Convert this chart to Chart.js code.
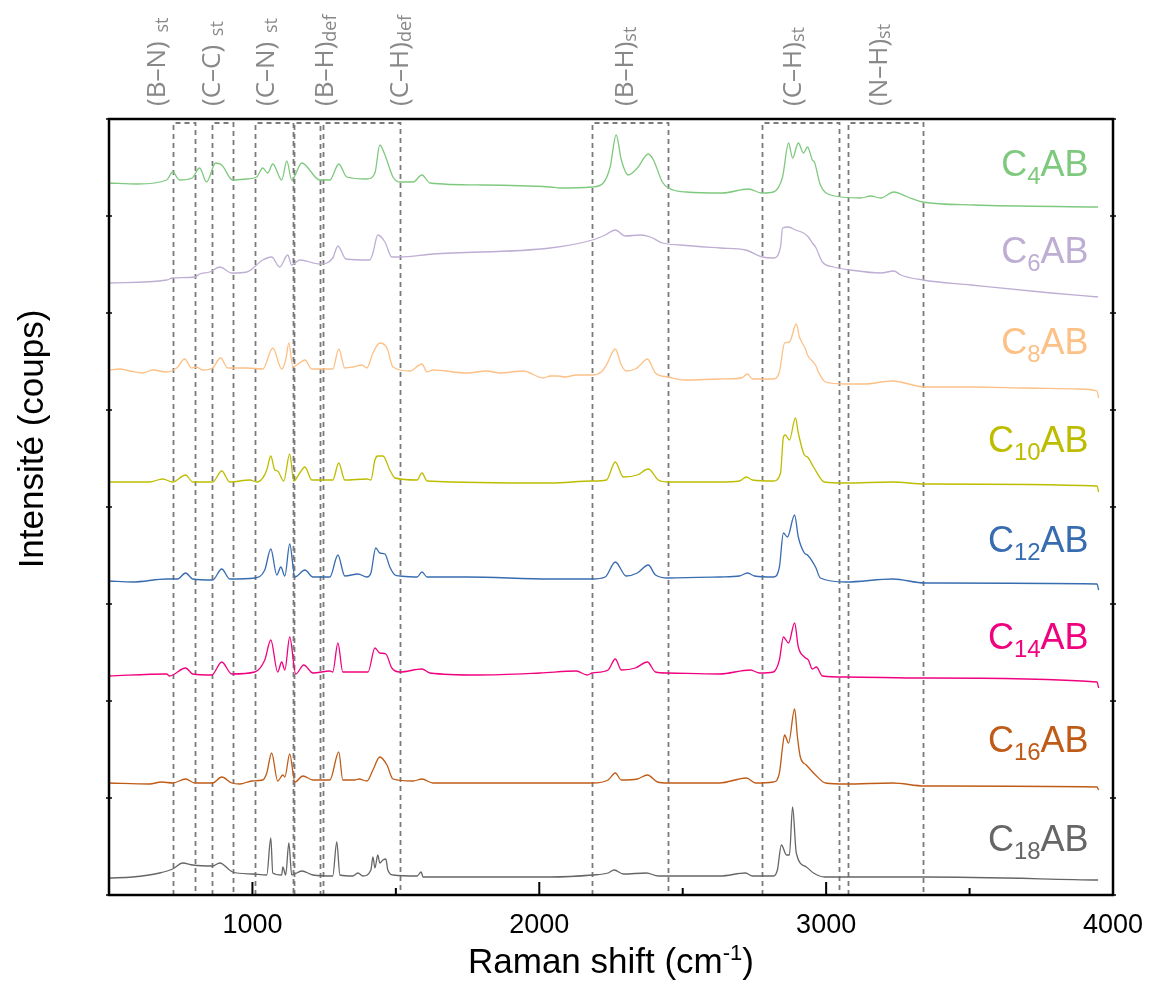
<!DOCTYPE html>
<html><head><meta charset="utf-8">
<script src="https://cdn.jsdelivr.net/npm/chart.js@4.4.1/dist/chart.umd.min.js"></script>
<style>html,body{margin:0;padding:0;background:#fff;}#wrap{width:1149px;height:985px;}</style>
</head><body><div id="wrap"><canvas id="c" width="1149" height="985"></canvas></div>
<script>
// ---- data (x: Raman shift cm-1, y: offset intensity, arbitrary counts) ----
const seriesNames = ['C', 'C', 'C', 'C', 'C', 'C', 'C', 'C'];
const seriesSub = ['4', '6', '8', '10', '12', '14', '16', '18'];
const seriesTail = 'AB';
const seriesColors = ['#7fc97f', '#beaed4', '#fdc086', '#bdbd00', '#386cb0', '#f0027f', '#bf5b17', '#666666'];

const c4AB = [[500,712],[600,711],[701,715],[722,723],[746,715],[790,717],[816,727],[840,713],[872,732],[893,730],[931,715],[980,716],[1015,718],[1036,727],[1053,722],[1071,731],[1102,715],[1120,734],[1137,715],[1172,732],[1235,715],[1270,715],[1301,731],[1329,718],[1399,716],[1427,722],[1444,750],[1462,740],[1490,718],[1514,713],[1560,713],[1591,720],[1619,712],[1800,710],[2038,708],[2073,707],[2185,708],[2223,712],[2247,728],[2268,760],[2286,735],[2310,720],[2342,727],[2380,741],[2398,735],[2429,713],[2450,707],[2513,703],[2638,702],[2729,706],[2775,702],[2816,703],[2848,718],[2869,752],[2883,737],[2903,752],[2921,742],[2935,748],[2952,735],[2959,733],[2980,710],[3015,700],[3120,697],[3155,699],[3190,697],[3236,703],[3284,698],[3337,693],[3515,690],[3948,688]];
const c6AB = [[500,612],[701,615],[722,617],[799,618],[816,621],[851,623],[886,628],[928,622],[980,623],[1036,635],[1067,638],[1095,628],[1123,640],[1137,630],[1165,635],[1235,631],[1280,637],[1298,649],[1326,636],[1409,635],[1420,642],[1437,660],[1462,653],[1486,638],[1514,638],[1629,641],[2038,647],[2185,655],[2230,660],[2265,665],[2300,659],[2352,660],[2387,658],[2429,652],[2492,650],[2631,647],[2719,645],[2778,638],[2816,637],[2841,648],[2848,667],[2869,668],[2893,665],[2921,662],[2938,658],[2952,652],[2963,648],[2987,633],[3026,628],[3085,625],[3190,622],[3236,624],[3260,620],[3337,615],[3504,610],[3784,602],[3948,598]];
const c8AB = [[500,525],[537,526],[572,524],[617,522],[652,525],[701,523],[736,527],[764,536],[788,527],[805,528],[826,525],[861,527],[889,537],[914,527],[980,527],[1036,526],[1071,547],[1102,526],[1116,535],[1127,552],[1141,528],[1155,530],[1183,535],[1207,526],[1280,526],[1301,546],[1322,527],[1350,528],[1382,530],[1399,527],[1420,542],[1444,552],[1469,547],[1490,528],[1549,524],[1591,531],[1609,523],[1629,525],[1748,522],[1818,524],[1863,522],[1944,524],[2014,517],[2038,519],[2066,519],[2090,518],[2129,520],[2185,520],[2216,523],[2234,530],[2265,546],[2286,530],[2303,524],[2335,526],[2352,530],[2377,536],[2405,522],[2450,518],[2506,515],[2628,516],[2705,517],[2726,521],[2743,516],[2816,516],[2837,523],[2855,552],[2872,553],[2896,571],[2907,558],[2928,546],[2935,540],[2963,530],[2973,523],[2998,513],[3068,511],[3131,511],[3232,514],[3344,508],[3508,508],[3696,507],[3881,506],[3944,504],[3950,497]];
const c10AB = [[500,413],[582,413],[641,413],[687,416],[722,413],[767,420],[792,413],[861,413],[893,424],[921,413],[991,415],[1015,413],[1036,417],[1050,425],[1064,439],[1078,425],[1088,424],[1109,414],[1130,441],[1144,414],[1165,422],[1183,428],[1207,415],[1280,415],[1301,432],[1322,415],[1399,416],[1413,415],[1427,435],[1437,439],[1455,439],[1479,425],[1497,417],[1574,415],[1591,422],[1609,414],[2038,412],[2185,414],[2234,415],[2265,433],[2293,418],[2342,420],[2380,426],[2415,415],[2450,413],[2631,413],[2698,414],[2722,418],[2743,415],[2816,414],[2841,422],[2851,458],[2858,460],[2872,455],[2893,477],[2903,462],[2924,440],[2935,438],[2956,428],[2994,413],[3068,412],[3232,413],[3344,411],[3944,409],[3950,403]];
const c12AB = [[500,314],[582,313],[701,316],[739,316],[767,322],[792,316],[861,315],[893,326],[921,316],[1008,317],[1043,325],[1064,346],[1085,320],[1099,328],[1113,319],[1130,351],[1148,318],[1183,325],[1211,318],[1270,318],[1298,340],[1322,319],[1368,321],[1399,318],[1413,322],[1430,347],[1444,342],[1462,341],[1479,328],[1497,320],[1514,319],[1574,318],[1591,323],[1609,318],[1748,318],[2038,316],[2185,316],[2230,318],[2265,333],[2303,319],[2342,322],[2380,330],[2405,320],[2450,317],[2631,318],[2698,319],[2726,322],[2750,319],[2816,318],[2837,328],[2851,362],[2865,358],[2890,380],[2903,358],[2924,342],[2935,340],[2963,328],[2980,317],[3068,313],[3232,316],[3344,312],[3944,311],[3950,305]];
const c14AB = [[500,219],[701,221],[711,219],[767,227],[792,221],[858,220],[893,233],[928,221],[1008,223],[1043,235],[1064,255],[1088,223],[1102,233],[1113,225],[1130,258],[1151,221],[1179,230],[1211,222],[1270,224],[1280,223],[1298,252],[1315,223],[1403,223],[1427,247],[1444,242],[1465,241],[1486,227],[1514,223],[1591,226],[1619,222],[1783,220],[2003,222],[2129,224],[2167,220],[2185,222],[2240,225],[2265,236],[2286,225],[2335,227],[2377,233],[2405,223],[2450,222],[2628,221],[2736,225],[2768,222],[2816,223],[2837,235],[2851,258],[2869,252],[2890,272],[2903,248],[2924,238],[2938,235],[2952,226],[2966,228],[2987,219],[3068,218],[3344,217],[3944,213],[3950,207]];
const c16AB = [[500,112],[641,111],[683,113],[722,112],[767,116],[799,112],[861,112],[893,118],[928,112],[956,111],[998,114],[1036,115],[1050,122],[1067,142],[1088,114],[1106,120],[1113,118],[1130,141],[1148,113],[1176,119],[1211,115],[1270,115],[1301,143],[1315,115],[1357,115],[1371,116],[1399,114],[1420,125],[1444,138],[1469,130],[1490,116],[1560,114],[1591,116],[1629,112],[2038,112],[2185,112],[2240,115],[2265,122],[2286,115],[2342,116],[2377,120],[2412,113],[2450,112],[2628,112],[2722,117],[2754,112],[2816,113],[2837,122],[2848,148],[2855,160],[2869,152],[2890,186],[2900,158],[2910,138],[2931,130],[2963,120],[2998,112],[3068,111],[3232,112],[3344,109],[3944,108],[3950,105]];
const c18AB = [[500,17],[582,18],[676,22],[722,26],[757,32],[792,30],[861,29],[886,32],[931,23],[1001,21],[1050,20],[1064,57],[1071,22],[1102,20],[1106,28],[1116,20],[1127,52],[1137,20],[1172,24],[1211,20],[1280,19],[1294,53],[1305,20],[1350,19],[1368,22],[1385,19],[1413,25],[1420,38],[1427,27],[1437,40],[1444,32],[1455,35],[1465,36],[1472,25],[1490,20],[1574,19],[1588,23],[1595,18],[2038,18],[2185,20],[2240,22],[2261,25],[2293,21],[2373,22],[2415,19],[2631,19],[2719,22],[2743,19],[2816,19],[2830,25],[2844,50],[2862,40],[2872,40],[2883,88],[2896,42],[2931,28],[2956,22],[2994,18],[3344,18],[3948,15]];
const spectra = [c4AB, c6AB, c8AB, c10AB, c12AB, c14AB, c16AB, c18AB];

const xTicks = [1000, 2000, 3000, 4000];
const xMinorTicks = [1500, 2500, 3500];
const yTicks = [0, 97, 194, 291, 388, 485, 582, 679, 776];

// vibrational band boxes (cm-1)
const bandStart = [722, 858, 1010, 1145, 1246, 2185, 2778, 3075];
const bandEnd   = [799, 932, 1140, 1237, 1514, 2450, 3044, 3337];
const bandMain  = ['(B–N)', '(C–C)', '(C–N)', '(B–H)', '(C–H)', '(B–H)', '(C–H)', '(N–H)'];
const bandSub   = [' st', ' st', ' st', 'def', 'def', 'st', 'st', 'st'];
</script>
<script>
// ---- layout / style (positions in axis units) ----
const bandLabelAt = [666, 858, 1046, 1252, 1514, 2300, 2883, 3183];
const bandTopValue = 772;
const seriesLabelValue = [719, 632, 541, 443, 343, 246, 143, 44];
const seriesLabelRightAt = 3915;

const overlay = {
  id: 'overlay',
  beforeDatasetsDraw(chart) {
    const ctx = chart.ctx, xs = chart.scales.x, ys = chart.scales.y;
    const top = ys.getPixelForValue(bandTopValue), bot = chart.chartArea.bottom;
    ctx.save();
    ctx.strokeStyle = '#7a7a7a';
    ctx.lineWidth = 1.8;
    ctx.setLineDash([5, 4]);
    for (let i = 0; i < bandStart.length; i++) {
      const a = Math.round(xs.getPixelForValue(bandStart[i])) + 0.5;
      const b = Math.round(xs.getPixelForValue(bandEnd[i])) + 0.5;
      ctx.beginPath();
      ctx.moveTo(a, bot); ctx.lineTo(a, top); ctx.lineTo(b, top); ctx.lineTo(b, bot);
      ctx.stroke();
    }
    ctx.restore();
  },
  afterDraw(chart) {
    const ctx = chart.ctx, xs = chart.scales.x, ys = chart.scales.y, ca = chart.chartArea;
    ctx.save();
    // frame
    ctx.strokeStyle = '#000';
    ctx.lineWidth = 2.5;
    ctx.strokeRect(ca.left, ca.top, ca.right - ca.left, ca.bottom - ca.top);
    // x ticks (inward)
    ctx.lineWidth = 2;
    xTicks.forEach(v => { const p = xs.getPixelForValue(v); ctx.beginPath(); ctx.moveTo(p, ca.bottom); ctx.lineTo(p, ca.bottom - 13); ctx.stroke(); });
    xMinorTicks.forEach(v => { const p = xs.getPixelForValue(v); ctx.beginPath(); ctx.moveTo(p, ca.bottom); ctx.lineTo(p, ca.bottom - 7); ctx.stroke(); });
    // y ticks (small, both sides)
    ctx.lineWidth = 1.5;
    yTicks.forEach(v => {
      const p = ys.getPixelForValue(v);
      ctx.beginPath(); ctx.moveTo(ca.left - 3, p); ctx.lineTo(ca.left + 3, p); ctx.stroke();
      ctx.beginPath(); ctx.moveTo(ca.right - 3, p); ctx.lineTo(ca.right + 3, p); ctx.stroke();
    });
    // axis titles
    ctx.fillStyle = '#000';
    ctx.textBaseline = 'alphabetic';
    const big = '35px "Liberation Sans", Arial, sans-serif', small = '22px "Liberation Sans", Arial, sans-serif';
    ctx.font = big;
    const t1 = 'Raman shift (cm', sup = '-1', t2 = ')';
    const w1 = ctx.measureText(t1).width, w3 = ctx.measureText(t2).width;
    ctx.font = small;
    const w2 = ctx.measureText(sup).width;
    const cx = (ca.left + ca.right) / 2;
    let sx = cx - (w1 + w2 + w3) / 2;
    const by = 973;
    ctx.font = big;
    ctx.textAlign = 'left';
    ctx.fillText(t1, sx, by);
    ctx.font = small;
    ctx.fillText(sup, sx + w1, by - 13);
    ctx.font = big;
    ctx.fillText(t2, sx + w1 + w2, by);

    ctx.save();
    ctx.translate(43, 439);
    ctx.rotate(-Math.PI / 2);
    ctx.textAlign = 'center';
    ctx.font = '35px "Liberation Sans", Arial, sans-serif';
    ctx.fillText('Intensité (coups)', 0, 0);
    ctx.restore();

    // band labels (rotated, grey)
    ctx.fillStyle = '#888888';
    for (let i = 0; i < bandMain.length; i++) {
      const px = xs.getPixelForValue(bandLabelAt[i]) + 8;
      ctx.save();
      ctx.translate(px, 106);
      ctx.rotate(-Math.PI / 2);
      ctx.textAlign = 'left';
      ctx.font = '26px "Open Sans", "Noto Sans", sans-serif';
      ctx.fillText(bandMain[i], 0, 0);
      let off = ctx.measureText(bandMain[i]).width;
      let sub = bandSub[i];
      if (sub.startsWith(' ')) { off += ctx.measureText(' ').width + 2; sub = sub.trim(); }
      ctx.font = '18px "Open Sans", "Noto Sans", sans-serif';
      ctx.fillText(sub, off, 3);
      ctx.restore();
    }

    // series labels
    const rx = xs.getPixelForValue(seriesLabelRightAt);
    for (let i = 0; i < seriesNames.length; i++) {
      const yb = ys.getPixelForValue(seriesLabelValue[i]);
      ctx.fillStyle = seriesColors[i];
      ctx.textAlign = 'left';
      ctx.font = '36px "Liberation Sans", Arial, sans-serif';
      const wa = ctx.measureText(seriesNames[i]).width, wc = ctx.measureText(seriesTail).width;
      ctx.font = '24px "Liberation Sans", Arial, sans-serif';
      const wb = ctx.measureText(seriesSub[i]).width;
      let x0 = rx - (wa + wb + wc);
      ctx.font = '36px "Liberation Sans", Arial, sans-serif';
      ctx.fillText(seriesNames[i], x0, yb);
      ctx.font = '24px "Liberation Sans", Arial, sans-serif';
      ctx.fillText(seriesSub[i], x0 + wa, yb + 8);
      ctx.font = '36px "Liberation Sans", Arial, sans-serif';
      ctx.fillText(seriesTail, x0 + wa + wb, yb);
    }
    ctx.restore();
  }
};

new Chart(document.getElementById('c'), {
  type: 'line',
  data: {
    datasets: spectra.map((s, i) => ({
      label: seriesNames[i] + seriesSub[i] + seriesTail,
      data: s.map(p => ({ x: p[0], y: p[1] })),
      borderColor: seriesColors[i],
      borderWidth: 1.3,
      pointRadius: 0,
      fill: false,
      cubicInterpolationMode: 'monotone'
    }))
  },
  options: {
    responsive: false,
    devicePixelRatio: 1,
    animation: false,
    events: [],
    layout: { padding: { top: 119, left: 109, right: 36, bottom: 0 } },
    plugins: { legend: { display: false }, tooltip: { enabled: false } },
    scales: {
      x: {
        type: 'linear', min: 500, max: 4000,
        grid: { display: false, drawTicks: false },
        border: { display: false },
        afterBuildTicks: s => { s.ticks = xTicks.map(v => ({ value: v })); },
        afterFit: s => { s.height = 90; s.paddingLeft = 0; s.paddingRight = 0; },
        ticks: { color: '#000', padding: 14, maxRotation: 0, callback: v => String(v), font: { family: '"Liberation Sans", Arial, sans-serif', size: 27 } }
      },
      y: { display: false, min: 0, max: 776 }
    }
  },
  plugins: [overlay]
});
</script>
</body></html>
